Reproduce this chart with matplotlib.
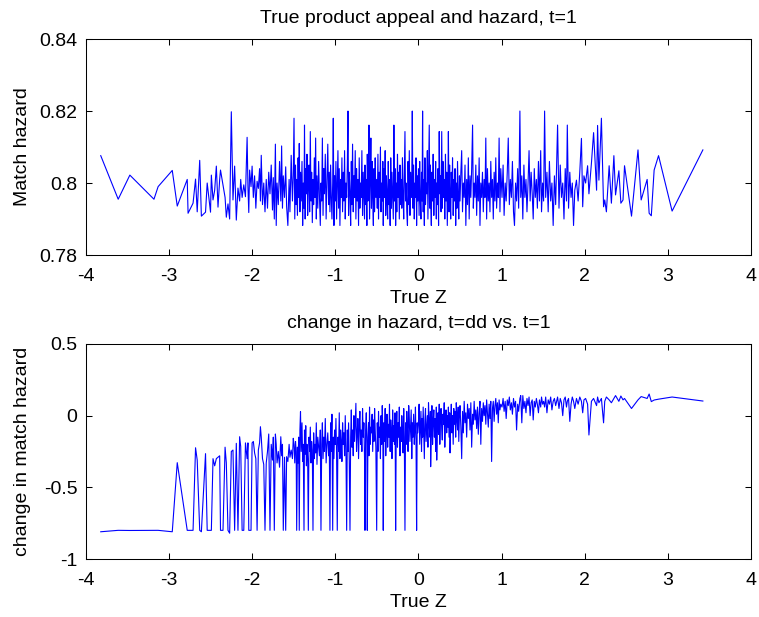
import matplotlib
matplotlib.use('Agg')
import matplotlib.pyplot as plt
from matplotlib.ticker import FormatStrFormatter

# sorted true Z (shared by both panels)
true_z = [
    -3.82, -3.61, -3.47, -3.18, -3.13, -2.96, -2.90, -2.78, -2.77, -2.71,
    -2.68, -2.66, -2.63, -2.61, -2.56, -2.54, -2.50, -2.49, -2.47, -2.45,
    -2.43, -2.41, -2.39, -2.38, -2.35, -2.325, -2.31, -2.29, -2.27, -2.25,
    -2.23, -2.21, -2.19, -2.17, -2.15, -2.137, -2.12, -2.10, -2.08, -2.06,
    -2.05, -2.04, -2.03, -2.013, -2.00,
    -1.985, -1.97, -1.955, -1.94, -1.925, -1.91, -1.90, -1.89, -1.875, -1.86,
    -1.845, -1.83, -1.815, -1.80, -1.785, -1.77, -1.755, -1.745, -1.733, -1.72,
    -1.71, -1.70, -1.685, -1.67, -1.655, -1.645, -1.635, -1.625, -1.61, -1.596,
    -1.585, -1.57, -1.555, -1.545, -1.53, -1.515, -1.505,
    -1.496, -1.487, -1.478, -1.47, -1.464, -1.455, -1.447, -1.44, -1.433, -1.425,
    -1.418, -1.41, -1.40, -1.392, -1.385, -1.376, -1.37, -1.362, -1.355, -1.347,
    -1.34, -1.332, -1.324, -1.316, -1.308, -1.30, -1.292, -1.284, -1.276, -1.268,
    -1.26, -1.252, -1.244, -1.236, -1.228, -1.22, -1.21, -1.20, -1.19, -1.18,
    -1.172, -1.163, -1.155, -1.147, -1.138, -1.13, -1.12, -1.11, -1.10, -1.09,
    -1.08, -1.072, -1.064, -1.056, -1.048, -1.04, -1.031, -1.024, -1.016, -1.008,
    -1.00, -0.992, -0.984, -0.976, -0.968, -0.96, -0.952, -0.944, -0.936, -0.928,
    -0.92, -0.912, -0.904, -0.896, -0.888, -0.88, -0.872, -0.863, -0.855, -0.847,
    -0.84, -0.832, -0.823, -0.815, -0.807, -0.80, -0.792, -0.784, -0.776, -0.768,
    -0.76, -0.752, -0.744, -0.736, -0.728, -0.72, -0.712, -0.704, -0.696, -0.688,
    -0.68, -0.672, -0.664, -0.656, -0.648, -0.643, -0.635, -0.627, -0.62, -0.615,
    -0.607, -0.60, -0.595, -0.588, -0.58, -0.572, -0.565, -0.557, -0.55, -0.542,
    -0.535, -0.527, -0.52, -0.512, -0.502,
    -0.495, -0.487, -0.48, -0.472, -0.465, -0.457, -0.45, -0.442, -0.435, -0.428,
    -0.423, -0.416, -0.408, -0.40, -0.393, -0.385, -0.378, -0.37, -0.363, -0.355,
    -0.348, -0.34, -0.333, -0.325, -0.318, -0.31, -0.302, -0.295, -0.288, -0.281,
    -0.274, -0.267, -0.26, -0.252, -0.245, -0.237, -0.23, -0.222, -0.215, -0.207,
    -0.20, -0.192, -0.185, -0.177, -0.17, -0.162, -0.155, -0.147, -0.14, -0.132,
    -0.125, -0.117, -0.11, -0.102, -0.095, -0.087, -0.08, -0.074, -0.066, -0.058,
    -0.05, -0.043, -0.036, -0.029, -0.022, -0.015, -0.008,
    0.000, 0.008, 0.015, 0.022, 0.03, 0.037, 0.044, 0.05, 0.057, 0.064,
    0.071, 0.078, 0.085, 0.092, 0.10, 0.107, 0.114, 0.121, 0.13, 0.137,
    0.144, 0.147, 0.155, 0.162, 0.17, 0.177, 0.185, 0.192, 0.20, 0.207,
    0.215, 0.22, 0.228, 0.235, 0.242, 0.25, 0.257, 0.264, 0.272, 0.28,
    0.287, 0.295, 0.302, 0.31, 0.317, 0.325, 0.332, 0.34, 0.347, 0.355,
    0.36, 0.368, 0.375, 0.38, 0.388, 0.395, 0.403, 0.41, 0.418, 0.425,
    0.433, 0.44, 0.448, 0.455, 0.463, 0.47, 0.478, 0.485, 0.493,
    0.50, 0.51, 0.52, 0.53, 0.54, 0.55, 0.56, 0.57, 0.58, 0.59,
    0.60, 0.61, 0.62, 0.63, 0.64, 0.651, 0.66, 0.67, 0.68, 0.69,
    0.70, 0.71, 0.72, 0.73, 0.74, 0.75, 0.76, 0.77, 0.78, 0.79,
    0.80, 0.81, 0.82, 0.83, 0.84, 0.85, 0.86, 0.87, 0.88, 0.89,
    0.90, 0.91, 0.92, 0.93, 0.94, 0.95, 0.96, 0.97, 0.98, 0.99,
    1.005, 1.018, 1.03, 1.043, 1.055, 1.068, 1.08, 1.093, 1.105, 1.118,
    1.13, 1.143, 1.155, 1.168, 1.18, 1.193, 1.205, 1.22, 1.23, 1.243,
    1.255, 1.268, 1.28, 1.293, 1.305, 1.318, 1.33, 1.343, 1.355, 1.368,
    1.38, 1.393, 1.405, 1.418, 1.43, 1.443, 1.455, 1.47, 1.48, 1.493,
    1.505, 1.517, 1.53, 1.545, 1.56, 1.575, 1.59, 1.605, 1.62, 1.635,
    1.65, 1.673, 1.69, 1.705, 1.72, 1.735, 1.75, 1.765, 1.78, 1.79,
    1.805, 1.82, 1.835, 1.85, 1.865, 1.88, 1.90, 1.92, 1.94, 1.96, 1.975, 1.99,
    2.01, 2.034, 2.05, 2.08, 2.106, 2.142, 2.154, 2.17, 2.20, 2.226,
    2.24, 2.26, 2.293, 2.32, 2.35, 2.37, 2.41, 2.434, 2.46, 2.478,
    2.562, 2.64, 2.678, 2.75, 2.774, 2.80, 2.834, 2.887, 3.05, 3.42,
]

# match hazard at t=1
hazard_t1 = [
    0.8076, 0.7955, 0.8022, 0.7955, 0.7990, 0.8035, 0.7936, 0.8010, 0.7916, 0.7944,
    0.8011, 0.7920, 0.8063, 0.7908, 0.7919, 0.8000, 0.7919, 0.8022, 0.7953, 0.7980,
    0.8047, 0.7933, 0.8010, 0.8036, 0.7995, 0.7960, 0.7905, 0.7942, 0.7900, 0.8198,
    0.7953, 0.8047, 0.7897, 0.7986, 0.7950, 0.8010, 0.7960, 0.7995, 0.7962, 0.8127,
    0.7990, 0.7918, 0.8036, 0.7990, 0.8047,
    0.7960, 0.8020, 0.7930, 0.8005, 0.7985, 0.8040, 0.7950, 0.8077, 0.7940, 0.8000,
    0.7920, 0.8010, 0.7930, 0.8030, 0.7970, 0.8050, 0.7925, 0.8015, 0.7900, 0.8108,
    0.7882, 0.8000, 0.7940, 0.8060, 0.7950, 0.8103, 0.7930, 0.8020, 0.7960, 0.8045,
    0.7935, 0.7882, 0.8010, 0.7920, 0.8077, 0.7950, 0.8020,
    0.8180, 0.7900, 0.8050, 0.7940, 0.8010, 0.7910, 0.8070, 0.7960, 0.8110, 0.7920,
    0.8030, 0.7950, 0.8060, 0.7882, 0.8000, 0.7930, 0.8161, 0.7900, 0.8040, 0.7970,
    0.8080, 0.7910, 0.7990, 0.8050, 0.7920, 0.8143, 0.7950, 0.8030, 0.7890, 0.8010,
    0.7940, 0.8070, 0.7960, 0.8125, 0.7900, 0.8020, 0.7930, 0.8060, 0.7960, 0.7882,
    0.8000, 0.7950, 0.8125, 0.7910, 0.8040, 0.7970, 0.8080, 0.7900, 0.8010, 0.8108,
    0.7940, 0.8030, 0.7920, 0.8050, 0.7960, 0.7900, 0.8000, 0.8180, 0.7882, 0.8020,
    0.7950, 0.8060, 0.7900, 0.8000, 0.8090, 0.7930, 0.8040, 0.7882, 0.8010, 0.7960,
    0.8070, 0.7920, 0.8030, 0.7950, 0.8090, 0.7900, 0.8000, 0.7960, 0.8050, 0.8200,
    0.7910, 0.8030, 0.7970, 0.7882, 0.8060, 0.7940, 0.8108, 0.7920, 0.8020, 0.7960,
    0.8090, 0.7900, 0.8040, 0.7950, 0.8010, 0.7882, 0.8070, 0.7930, 0.8000, 0.7960,
    0.8090, 0.7910, 0.8030, 0.7970, 0.7900, 0.8050, 0.7940, 0.8010, 0.7882, 0.8080,
    0.7950, 0.8020, 0.8161, 0.7900, 0.8000, 0.8125, 0.7930, 0.8060, 0.7960, 0.7882,
    0.8040, 0.7920, 0.8070, 0.7960, 0.8010,
    0.7930, 0.8080, 0.7900, 0.8030, 0.7960, 0.8100, 0.7920, 0.8000, 0.7950, 0.8060,
    0.7882, 0.8040, 0.7960, 0.8090, 0.7910, 0.8020, 0.7970, 0.7900, 0.8060, 0.7940,
    0.8010, 0.7882, 0.8070, 0.7930, 0.8030, 0.7960, 0.7900, 0.8161, 0.7950, 0.8040,
    0.7882, 0.8000, 0.7920, 0.8080, 0.7960, 0.8030, 0.7900, 0.8050, 0.7940, 0.8010,
    0.7930, 0.8070, 0.7970, 0.7900, 0.8020, 0.8143, 0.7950, 0.8000, 0.7920, 0.7882,
    0.8060, 0.7940, 0.8090, 0.7910, 0.8030, 0.7960, 0.8010, 0.8200, 0.7930, 0.8050,
    0.7900, 0.8000, 0.7960, 0.8070, 0.7882, 0.8020, 0.7950,
    0.8040, 0.7910, 0.8060, 0.7960, 0.7900, 0.8030, 0.7950, 0.8200, 0.7920, 0.8010,
    0.7882, 0.8070, 0.7940, 0.8000, 0.7970, 0.8090, 0.7900, 0.8020, 0.8161, 0.7930,
    0.8050, 0.7960, 0.7882, 0.8030, 0.7950, 0.8080, 0.7910, 0.8010, 0.7960, 0.8060,
    0.7900, 0.8000, 0.7940, 0.8040, 0.7882, 0.8143, 0.7970, 0.8020, 0.7920, 0.8143,
    0.7930, 0.8060, 0.7960, 0.8010, 0.7900, 0.8080, 0.7950, 0.8030, 0.7882, 0.8000,
    0.8143, 0.7920, 0.8050, 0.7970, 0.7900, 0.8030, 0.7960, 0.8070, 0.7910, 0.8010,
    0.7950, 0.8040, 0.7882, 0.8000, 0.7930, 0.8060, 0.7960, 0.7900, 0.8020,
    0.7950, 0.8030, 0.8090, 0.7920, 0.8000, 0.7960, 0.8050, 0.7882, 0.8010, 0.7940,
    0.8070, 0.7900, 0.8020, 0.7960, 0.8040, 0.8161, 0.7930, 0.8000, 0.7960, 0.8050,
    0.7910, 0.8020, 0.7950, 0.8070, 0.7882, 0.8000, 0.7960, 0.8030, 0.7920, 0.8010,
    0.7960, 0.8125, 0.7900, 0.8040, 0.7950, 0.8000, 0.7920, 0.8060, 0.7960, 0.8010,
    0.7900, 0.8030, 0.7950, 0.8070, 0.7930, 0.8000, 0.7960, 0.8125, 0.7920, 0.8040,
    0.7960, 0.8050, 0.7910, 0.8000, 0.7950, 0.8030, 0.8125, 0.7940, 0.8010, 0.7960,
    0.8060, 0.7920, 0.7882, 0.8000, 0.7950, 0.8040, 0.7930, 0.8200, 0.7960, 0.8020,
    0.7900, 0.8050, 0.7960, 0.8010, 0.7920, 0.8000, 0.8090, 0.7950, 0.8030, 0.7970,
    0.7900, 0.8040, 0.7960, 0.8010, 0.7930, 0.8060, 0.7950, 0.8090, 0.7920, 0.8000,
    0.7950, 0.8200, 0.7960, 0.8030, 0.7920, 0.8060, 0.7950, 0.8000, 0.7882, 0.8020,
    0.7940, 0.8161, 0.7930, 0.8050, 0.7960, 0.8000, 0.7900, 0.8040, 0.7950, 0.8161,
    0.7930, 0.8030, 0.7960, 0.8000, 0.7882, 0.7980, 0.8008, 0.7950, 0.8031, 0.8124, 0.7934, 0.8020,
    0.8000, 0.8048, 0.7970, 0.8055, 0.8140, 0.7980, 0.8160, 0.8008, 0.8180, 0.7934,
    0.7953, 0.7920, 0.8048, 0.7944, 0.8076, 0.7967, 0.8034, 0.7944, 0.7953, 0.8048,
    0.7908, 0.8092, 0.7953, 0.8010, 0.7916, 0.7909, 0.8036, 0.8076, 0.7922, 0.8092,
]

# change in match hazard, t=dd vs. t=1
hazard_change = [
    -0.810, -0.800, -0.801, -0.800, -0.800, -0.810, -0.328, -0.800, -0.800, -0.800,
    -0.224, -0.310, -0.800, -0.810, -0.265, -0.800, -0.800, -0.800, -0.300, -0.350,
    -0.300, -0.290, -0.280, -0.800, -0.800, -0.220, -0.330, -0.800, -0.820, -0.250,
    -0.240, -0.800, -0.193, -0.800, -0.147, -0.216, -0.800, -0.800, -0.190, -0.300,
    -0.190, -0.800, -0.800, -0.800, -0.190,
    -0.180, -0.260, -0.300, -0.800, -0.240, -0.190, -0.077, -0.150, -0.300, -0.340,
    -0.800, -0.330, -0.250, -0.128, -0.800, -0.200, -0.310, -0.150, -0.800, -0.128,
    -0.200, -0.330, -0.250, -0.360, -0.147, -0.280, -0.200, -0.800, -0.290, -0.800,
    -0.286, -0.320, -0.200, -0.290, -0.240, -0.300, -0.158,
    -0.200, -0.330, -0.180, -0.250, -0.800, -0.220, -0.330, -0.150, -0.800, -0.100,
    0.028, -0.250, -0.050, -0.320, -0.200, -0.800, -0.100, -0.270, -0.070, -0.350,
    -0.200, -0.300, -0.800, -0.150, -0.250, -0.080, -0.330, -0.180, -0.240, -0.800,
    -0.120, -0.300, -0.200, -0.260, -0.050, -0.340, -0.150, -0.220, -0.280, -0.100,
    -0.800, -0.200, -0.050, -0.300, -0.150, -0.250, -0.020, -0.330, -0.200, -0.120,
    -0.280, -0.180, -0.800, -0.050, -0.250, 0.010, -0.800, -0.150, -0.300, -0.100,
    -0.200, -0.020, -0.280, -0.800, -0.150, -0.250, 0.020, -0.300, -0.100, -0.180,
    -0.320, -0.050, -0.200, -0.120, -0.280, 0.000, -0.220, -0.800, -0.100, -0.250,
    -0.050, -0.300, -0.800, -0.150, 0.040, -0.220, -0.100, -0.280, 0.000, -0.180,
    -0.050, 0.086, -0.250, -0.120, -0.020, -0.300, -0.080, 0.030, -0.200, -0.100,
    -0.250, 0.050, -0.150, -0.050, -0.300, -0.800, -0.100, 0.020, -0.200, -0.800,
    -0.150, -0.050, -0.280, 0.060, -0.200, -0.080, -0.120, 0.010, -0.250, -0.030,
    -0.180, 0.050, -0.100, -0.220, -0.800,
    -0.050, -0.250, 0.030, -0.150, -0.080, -0.300, 0.000, -0.200, 0.070, -0.120,
    -0.800, -0.050, -0.180, 0.050, -0.280, -0.100, 0.010, -0.220, -0.060, -0.150,
    0.080, -0.250, -0.030, -0.120, -0.300, 0.040, -0.180, -0.070, -0.200, 0.020,
    -0.800, -0.100, 0.030, -0.220, -0.050, -0.150, 0.060, -0.280, -0.080, -0.180,
    0.000, -0.120, -0.260, 0.050, -0.150, -0.800, -0.050, -0.200, 0.030, -0.100,
    -0.250, 0.070, -0.030, -0.180, -0.080, 0.040, -0.300, -0.050, -0.150, 0.010,
    -0.200, -0.100, 0.060, -0.180, -0.800, -0.050, -0.120,
    -0.050, 0.080, -0.200, -0.100, 0.030, -0.250, -0.020, -0.150, 0.060, -0.120,
    -0.300, -0.030, 0.050, -0.180, -0.080, 0.000, -0.220, 0.090, -0.060, -0.150,
    0.030, -0.356, -0.100, 0.070, -0.200, -0.050, 0.040, -0.150, -0.020, -0.250,
    0.060, -0.310, -0.080, 0.020, -0.130, 0.080, -0.200, -0.040, 0.050, -0.100,
    -0.170, 0.010, -0.060, 0.090, -0.220, -0.030, 0.040, -0.120, 0.000, -0.080,
    0.060, -0.150, 0.020, -0.260, -0.050, 0.080, -0.120, 0.000, -0.200, 0.050,
    -0.060, 0.030, -0.150, 0.090, -0.030, -0.100, 0.060, -0.180, 0.010,
    0.070, -0.080, -0.300, 0.030, -0.120, 0.100, -0.050, 0.020, -0.150, 0.080,
    -0.020, 0.050, -0.100, 0.090, -0.220, 0.010, -0.060, 0.100, -0.030, 0.040,
    -0.090, 0.060, -0.130, 0.020, 0.100, -0.200, 0.050, -0.040, 0.090, 0.000,
    0.070, -0.060, 0.110, 0.020, -0.080, 0.080, -0.020, 0.100, -0.320, 0.050,
    0.100, -0.040, 0.070, 0.120, 0.010, 0.090, -0.050, 0.110, 0.040, 0.080,
    0.060, 0.120, 0.030, 0.100, -0.020, 0.110, 0.070, 0.130, 0.040, 0.090,
    0.010, 0.120, 0.060, 0.100, -0.100, 0.080, 0.030, 0.120, 0.140, -0.050,
    0.140, 0.050, 0.100, 0.020, 0.120, 0.070, 0.130, 0.000, 0.090, 0.110,
    -0.030, 0.100, 0.060, 0.120, 0.080, 0.020, 0.110, 0.060, 0.130, 0.080,
    0.100, 0.060, 0.130, 0.020, 0.110, 0.080, 0.130, 0.040, 0.100, 0.120,
    0.070, 0.130, 0.050, 0.120, 0.090, 0.000, 0.110, 0.130, 0.060, 0.100,
    0.120, -0.040, 0.080, 0.130, 0.100, 0.050, 0.120, 0.080, 0.130, 0.100, 0.020, 0.110,
    0.120, 0.080, -0.135, 0.100, 0.120, 0.070, 0.130, 0.090, 0.120, -0.050,
    0.100, 0.130, 0.110, 0.090, 0.120, 0.140, 0.100, 0.137, 0.110, 0.120,
    0.050, 0.110, 0.133, 0.120, 0.151, 0.098, 0.109, 0.115, 0.130, 0.102,
]

plt.rcParams['font.family'] = ['Liberation Sans', 'DejaVu Sans']
plt.rcParams['axes.unicode_minus'] = False
plt.rcParams['font.size'] = 14

fig = plt.figure(figsize=(7.59, 6.17), dpi=100)
ax1 = fig.add_axes([0.113, 0.5867, 0.8766, 0.350])
ax2 = fig.add_axes([0.113, 0.094, 0.8766, 0.3485])


def estilo(ax):
    ax.tick_params(direction='in', length=4.5, width=0.75, top=True, right=True,
                   labelsize=14)
    ax.tick_params(axis='x', pad=9.3)
    ax.tick_params(axis='y', pad=6)
    for s in ax.spines.values():
        s.set_linewidth(0.75)
    ax.set_xlim(-4, 4)
    ax.set_xticks(range(-4, 5))
    ax.yaxis.set_major_formatter(FormatStrFormatter('%g'))


ax1.plot(true_z, hazard_t1, color='#0000ff', lw=0.8)
estilo(ax1)
ax1.set_ylim(0.78, 0.84)
ax1.set_yticks([0.78, 0.80, 0.82, 0.84])
ax1.set_title('True product appeal and hazard, t=1', fontsize=14, pad=11.3)
ax1.set_xlabel('True Z', labelpad=3.5)
ax1.set_ylabel('Match hazard', labelpad=6)

ax2.plot(true_z, hazard_change, color='#0000ff', lw=0.8)
estilo(ax2)
ax2.set_ylim(-1, 0.5)
ax2.set_yticks([-1, -0.5, 0, 0.5])
ax2.set_title('change in hazard, t=dd vs. t=1', fontsize=14, pad=11.3)
ax2.set_xlabel('True Z', labelpad=3.5)
ax2.set_ylabel('change in match hazard', labelpad=9)

fig.savefig('out.png', dpi=100)
